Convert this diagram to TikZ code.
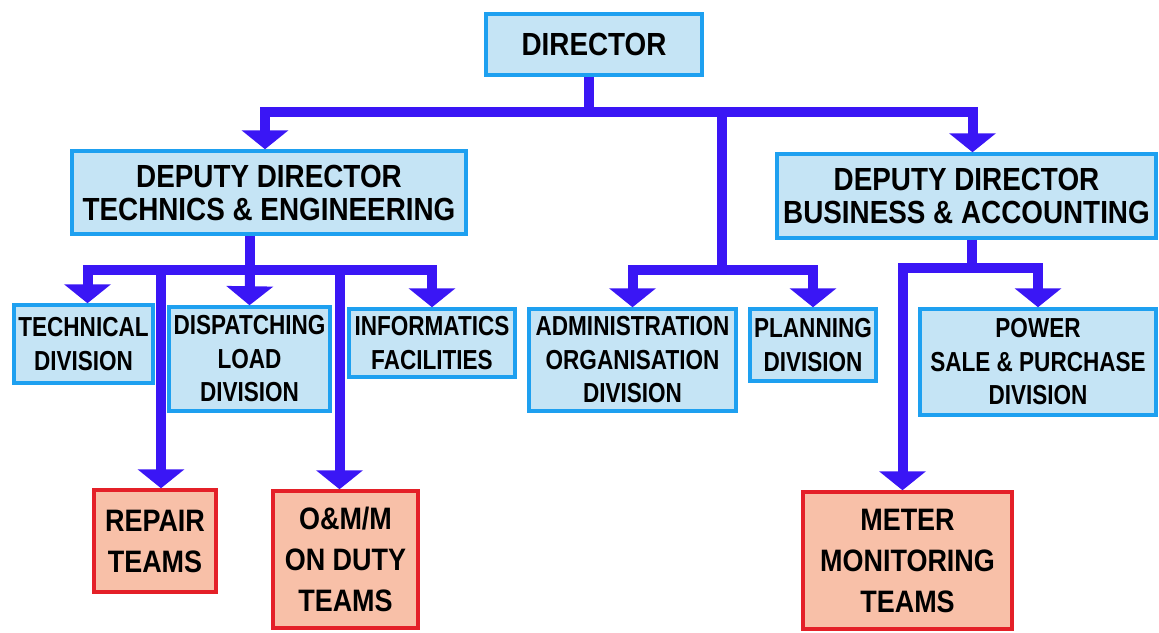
\documentclass[tikz,border=0pt]{standalone}
\usepackage{fontspec}
\usetikzlibrary{arrows.meta}
\newfontfamily\orgfont[FakeStretch=0.87]{Liberation Sans}
\newfontfamily\unitfont[FakeStretch=0.82]{Liberation Sans}
\definecolor{boxblue}{RGB}{197,228,245}
\definecolor{edgeblue}{RGB}{30,160,240}
\definecolor{boxred}{RGB}{248,192,168}
\definecolor{edgered}{RGB}{228,32,40}
\definecolor{linkviolet}{RGB}{58,22,245}

\begin{document}
\begin{tikzpicture}[x=1pt,y=-1pt]
\tikzstyle{unit}=[draw=edgeblue,fill=boxblue,line width=3.5pt,inner sep=0pt,align=center,font=\unitfont\bfseries\fontsize{27.5}{33.5}\selectfont];
\tikzstyle{head}=[unit,font=\orgfont\bfseries\fontsize{32}{33}\selectfont];
\tikzstyle{team}=[unit,draw=edgered,fill=boxred,font=\orgfont\bfseries\fontsize{31}{41}\selectfont];
\tikzstyle{link}=[draw=linkviolet,line width=10pt];
\tikzstyle{flow}=[link,-{Triangle[width=46pt,length=19pt]}];
\useasboundingbox (0,0) rectangle (1159,632);
\node (director) [head,minimum width=216pt,minimum height=61pt] at (594,44.5) {DIRECTOR};
\node (ddtech) [head,minimum width=394pt,minimum height=83pt] at (269,192.5) {DEPUTY DIRECTOR\\TECHNICS \& ENGINEERING};
\node (ddbus) [head,minimum width=379pt,minimum height=84pt] at (966.5,196) {DEPUTY DIRECTOR\\BUSINESS \& ACCOUNTING};
\node (technical) [unit,minimum width=139pt,minimum height=78pt] at (83.5,344) {TECHNICAL\\DIVISION};
\node (dispatching) [unit,minimum width=161pt,minimum height=104pt] at (249.5,359) {DISPATCHING\\LOAD\\DIVISION};
\node (informatics) [unit,minimum width=166pt,minimum height=68pt] at (432,343) {INFORMATICS\\FACILITIES};
\node (admin) [unit,minimum width=207pt,minimum height=102pt] at (632.5,360) {ADMINISTRATION\\ORGANISATION\\DIVISION};
\node (planning) [unit,minimum width=126pt,minimum height=72pt] at (813,345) {PLANNING\\DIVISION};
\node (power) [unit,minimum width=236pt,minimum height=106pt] at (1038,362) {POWER\\SALE \& PURCHASE\\DIVISION};
\node (repair) [team,minimum width=122pt,minimum height=102pt] at (155,541) {REPAIR\\TEAMS};
\node (om) [team,minimum width=145pt,minimum height=137pt] at (345.5,559.5) {O\&M/M\\ON DUTY\\TEAMS};
\node (meter) [team,minimum width=209pt,minimum height=137pt] at (907.5,560.5) {METER\\MONITORING\\TEAMS};
% junctions
\coordinate (top) at (589,112);
\coordinate (mid) at (722,270);
\coordinate (tech) at (250,270);
\coordinate (bus) at (972,268);
\draw[link] (director.south -| top) -- (top);
\draw[flow] (top) -| ([xshift=-4pt]ddtech.north);
\draw[flow] (top) -| ([xshift=6pt]ddbus.north);
\draw[link] (top) -| (mid);
\draw[flow] (mid) -| (admin.north);
\draw[flow] (mid) -| (planning.north);
\draw[link] (ddtech.south -| tech) -- (tech);
\draw[flow] (tech) -| ([xshift=4pt]technical.north);
\draw[flow] (tech) -- (dispatching.north);
\draw[flow] (tech) -| (informatics.north);
\draw[flow] (tech) -| ([xshift=6pt]repair.north);
\draw[flow] (tech) -| ([xshift=-6pt]om.north);
\draw[link] (ddbus.south -| bus) -- (bus);
\draw[flow] (bus) -| (power.north);
\draw[flow] (bus) -| ([xshift=-5pt]meter.north);
\end{tikzpicture}
\end{document}
